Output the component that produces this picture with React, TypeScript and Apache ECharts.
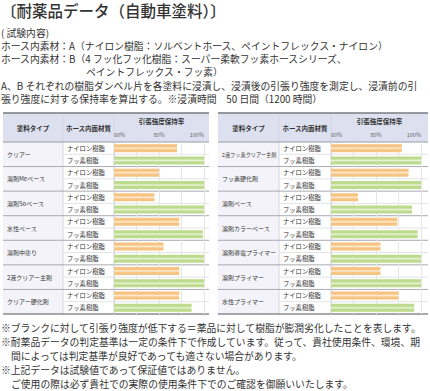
import React, { useEffect, useRef } from "react";
import * as echarts from "echarts";

const titleText = "〔耐薬品データ（自動車塗料）〕";
const introLines = [
  "( 試験内容)",
  "ホース内素材：A（ナイロン樹脂：ソルベントホース、ペイントフレックス・ナイロン）",
  "ホース内素材：B（4 フッ化フッ化樹脂：スーパー柔軟フッ素ホースシリーズ、",
  "ペイントフレックス・フッ素）",
  "A、B それぞれの樹脂ダンベル片を各塗料に浸漬し、浸漬後の引張り強度を測定し、浸漬前の引",
  "張り強度に対する保持率を算出する。※浸漬時間　50 日間（1200 時間）",
];
const noteLines = [
  "※ブランクに対して引張り強度が低下する＝薬品に対して樹脂が膨潤劣化したことを表します。",
  "※耐薬品データの判定基準は一定の条件下で作成しています。従って、貴社使用条件、環境、期",
  "間によっては判定基準が良好であっても適さない場合があります。",
  "※上記データは試験値であって保証値ではありません。",
  "ご使用の際は必ず貴社での実際の使用条件下でのご確認を御願いいたします。",
];
const headers = ["塗料タイプ", "ホース内面材質", "引張強度保持率"];
const materials = ["ナイロン樹脂", "フッ素樹脂"];
const axisTicks = [60, 80, 100];

const leftCats = ["クリアー", "溶剤Meベース", "溶剤Soベース", "水性ベース", "溶剤中塗り", "2液クリアー主剤", "クリアー硬化剤"];
const leftNylon = [88, 80, 78, 89, 82, 89, 89];
const leftFluoro = [100, 100, 100, 99.5, 100, 100, 94.5];

const rightCats = ["2液フッ素クリアー主剤", "フッ素硬化剤", "溶剤ベース", "溶剤カラーベース", "溶剤導電プライマー", "溶剤プライマー", "水性プライマー"];
const rightNylon = [91.5, 94.5, 72, 89.5, 82, 82, 90];
const rightFluoro = [100, 100, 96, 98.5, 100, 100, 97];

const FONT = '"Noto Sans CJK JP", "Noto Sans", sans-serif';
const W = 430;
const TOP = 113;
const HEAD_BOTTOM = 142;
const BOTTOM = 314;
const ROWS = 7;
const ROW_H = (BOTTOM - HEAD_BOTTOM) / ROWS;

const tables = [
  { cats: leftCats, nylon: leftNylon, fluoro: leftFluoro, x0: 3, x1: 63, x2: 114, x3: 209, xEnd: 204 },
  { cats: rightCats, nylon: rightNylon, fluoro: rightFluoro, x0: 218, x1: 279, x2: 331, x3: 428, xEnd: 421 },
];

const grad = (edge: string, mid: string) =>
  new echarts.graphic.LinearGradient(0, 0, 0, 1, [
    { offset: 0, color: edge },
    { offset: 0.3, color: edge },
    { offset: 0.5, color: mid },
    { offset: 0.7, color: edge },
    { offset: 1, color: edge },
  ]);

export default function App() {
  const ref = useRef<HTMLDivElement>(null);
  useEffect(() => {
    if (!ref.current) return;
    const chart = echarts.init(ref.current, null, { renderer: "svg" });

    const grids: any[] = [];
    const xAxes: any[] = [];
    const yAxes: any[] = [];
    const series: any[] = [];
    const graphics: any[] = [];

    graphics.push({
      type: "text", x: 1, y: 10,
      style: { text: titleText, font: `500 15.5px ${FONT}`, fill: "#333", verticalAlign: "middle" },
    });
    const introY = [33, 46, 59, 72, 86, 99];
    introLines.forEach((t, i) => {
      graphics.push({
        type: "text", x: i === 3 ? 86 : 1, y: introY[i],
        style: { text: t, font: `9.8px ${FONT}`, fill: "#333", verticalAlign: "middle" },
      });
    });
    const noteY = [328, 342, 356, 370, 384];
    noteLines.forEach((t, i) => {
      graphics.push({
        type: "text", x: i === 2 || i === 4 ? 11 : 1, y: noteY[i],
        style: { text: t, font: `9.8px ${FONT}`, fill: "#333", verticalAlign: "middle" },
      });
    });

    tables.forEach((tb, ti) => {
      const { x0, x1, x2, x3, xEnd } = tb;
      graphics.push({ type: "rect", z: -10, shape: { x: x0, y: TOP, width: x3 - x0, height: HEAD_BOTTOM - TOP }, style: { fill: "#dde0ef" } });
      graphics.push({ type: "rect", z: -10, shape: { x: x0, y: HEAD_BOTTOM, width: x1 - x0, height: BOTTOM - HEAD_BOTTOM }, style: { fill: "#f3f3f9" } });
      [x1, x2].forEach((x) => {
        graphics.push({ type: "line", z: -5, shape: { x1: x, y1: TOP, x2: x, y2: BOTTOM }, style: { stroke: "#d4d6e2", lineWidth: 1 } });
      });
      for (let r = 0; r < ROWS; r++) {
        const yMid = HEAD_BOTTOM + r * ROW_H + ROW_H / 2;
        graphics.push({ type: "line", z: -5, shape: { x1: x1, y1: yMid, x2: x3, y2: yMid }, style: { stroke: "#e3e3e3", lineWidth: 1 } });
        if (r > 0) {
          const y = HEAD_BOTTOM + r * ROW_H;
          graphics.push({ type: "line", z: -4, shape: { x1: x0, y1: y, x2: x3, y2: y }, style: { stroke: "#a9a9b0", lineWidth: 1 } });
        }
      }
      graphics.push({ type: "line", z: -4, shape: { x1: x0, y1: HEAD_BOTTOM, x2: x3, y2: HEAD_BOTTOM }, style: { stroke: "#9a9aa6", lineWidth: 1 } });
      graphics.push({ type: "line", z: -3, shape: { x1: x0, y1: TOP, x2: x3, y2: TOP }, style: { stroke: "#7a7a80", lineWidth: 1.5 } });
      graphics.push({ type: "line", z: -3, shape: { x1: x0, y1: BOTTOM, x2: x3, y2: BOTTOM }, style: { stroke: "#8a8a90", lineWidth: 1.5 } });
      graphics.push({ type: "text", x: (x0 + x1) / 2, y: 128, style: { text: headers[0], font: `bold 6.5px ${FONT}`, fill: "#333", align: "center", verticalAlign: "middle" } });
      graphics.push({ type: "text", x: (x1 + x2) / 2, y: 128, style: { text: headers[1], font: `bold 6.5px ${FONT}`, fill: "#333", align: "center", verticalAlign: "middle" } });
      graphics.push({ type: "text", x: (x2 + x3) / 2, y: 121, style: { text: headers[2], font: `bold 6.5px ${FONT}`, fill: "#333", align: "center", verticalAlign: "middle" } });

      grids.push({ left: x2, right: W - xEnd, top: HEAD_BOTTOM, height: BOTTOM - HEAD_BOTTOM, containLabel: false, outerBoundsMode: "none" });
      xAxes.push({
        type: "value", gridIndex: ti, position: "top", min: 60, max: 100, interval: 10,
        axisLine: { show: false }, axisTick: { show: false },
        splitLine: { show: true, lineStyle: { color: "#e6e6e6", width: 1 } },
        axisLabel: {
          margin: 4, fontSize: 5.5, color: "#666", fontFamily: FONT,
          alignMinLabel: "left", alignMaxLabel: "right",
          formatter: (v: number) => (axisTicks.includes(v) ? `${v}%` : ""),
        },
      });
      const subCats = tb.cats.flatMap((c, i) => materials.map((m) => `${i}|${m}`));
      yAxes.push({
        type: "category", gridIndex: ti, position: "left", inverse: true, data: subCats,
        axisLine: { show: true, lineStyle: { color: "#d4d6e2" } }, axisTick: { show: false },
        axisLabel: {
          align: "left", margin: x2 - x1 - 4, fontSize: 6.3, color: "#333", fontFamily: FONT,
          formatter: (v: string) => v.split("|")[1],
        },
      });
      yAxes.push({
        type: "category", gridIndex: ti, position: "left", offset: 0, inverse: true, data: tb.cats,
        axisLine: { show: false }, axisTick: { show: false },
        axisLabel: {
          align: "left", margin: x2 - x0 - 4, fontSize: 6, color: "#333", fontFamily: FONT,
          formatter: (v: string) => (v.length > 9 ? `{s|${v}}` : v),
          rich: { s: { fontSize: 5.2, fontFamily: FONT, color: "#333" } },
        },
      });
      series.push({
        type: "bar", xAxisIndex: ti, yAxisIndex: ti * 2, barWidth: 8,
        data: tb.cats.flatMap((c, i) => [
          { value: tb.nylon[i], itemStyle: { color: grad("#f6c480", "#fdebd2") } },
          { value: tb.fluoro[i], itemStyle: { color: grad("#bcdb8c", "#e9f3d8") } },
        ]),
      });
    });

    chart.setOption({
      animation: false,
      textStyle: { fontFamily: FONT },
      grid: grids,
      xAxis: xAxes,
      yAxis: yAxes,
      series,
      graphic: { elements: graphics },
    });
    return () => chart.dispose();
  }, []);
  return <div ref={ref} style={{ width: 430, height: 391, position: "absolute", left: 0, top: 0, background: "#fff" }} />;
}
